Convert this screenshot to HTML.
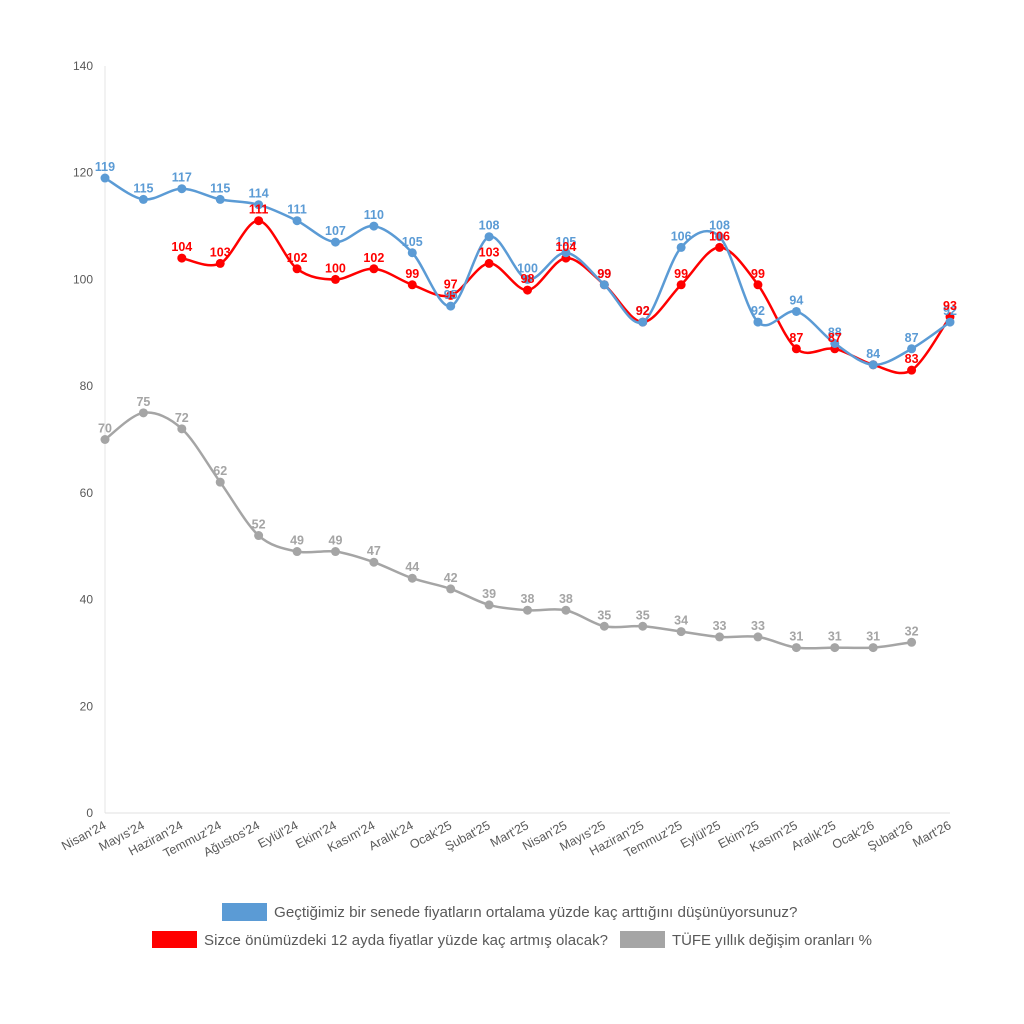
<!DOCTYPE html>
<html><head><meta charset="utf-8"><style>
body{margin:0;background:#fff;}
svg{display:block;font-family:"Liberation Sans",sans-serif;}
</style></head><body>
<svg id="s" width="1024" height="1024" xmlns="http://www.w3.org/2000/svg"></svg>
<script>
const s=document.getElementById('s');
const X0=105,STEP=845/22,Y0=813,K=(813-66)/140;
const months=["Nisan'24","Mayıs'24","Haziran'24","Temmuz'24","Ağustos'24","Eylül'24","Ekim'24","Kasım'24","Aralık'24","Ocak'25","Şubat'25","Mart'25","Nisan'25","Mayıs'25","Haziran'25","Temmuz'25","Eylül'25","Ekim'25","Kasım'25","Aralık'25","Ocak'26","Şubat'26","Mart'26"];
const blue=[119,115,117,115,114,111,107,110,105,95,108,100,105,99,92,106,108,92,94,88,84,87,92];
const red=[null,null,104,103,111,102,100,102,99,97,103,98,104,99,92,99,106,99,87,87,84,83,93];
const gray=[70,75,72,62,52,49,49,47,44,42,39,38,38,35,35,34,33,33,31,31,31,32];
let h='';
h+=`<line x1="105" y1="66" x2="105" y2="813" stroke="#e6e6e6"/>`;
h+=`<line x1="105" y1="813" x2="950" y2="813" stroke="#e0e0e0"/>`;
for(let v=0;v<=140;v+=20){const y=Y0-v*K;h+=`<text x="93" y="${y+4}" font-size="12" fill="#595959" text-anchor="end">${v}</text>`;}
months.forEach((m,i)=>{const x=X0+i*STEP;h+=`<text transform="translate(${x+2},${828}) rotate(-28)" font-size="12.5" fill="#595959" text-anchor="end">${m}</text>`;});
function pts(a){return a.map((v,i)=>v==null?null:[X0+i*STEP,Y0-v*K,v]).filter(p=>p);}
function path(p){let d=`M${p[0][0]},${p[0][1]}`;for(let i=0;i<p.length-1;i++){const p0=p[i-1]||p[i],p1=p[i],p2=p[i+1],p3=p[i+2]||p2;const t=0.16;d+=` C${p1[0]+(p2[0]-p0[0])*t},${p1[1]+(p2[1]-p0[1])*t} ${p2[0]-(p3[0]-p1[0])*t},${p2[1]-(p3[1]-p1[1])*t} ${p2[0]},${p2[1]}`;}return d;}
function line(a,c){const p=pts(a);let o=`<path d="${path(p)}" fill="none" stroke="${c}" stroke-width="2.5"/>`;p.forEach(q=>{o+=`<circle cx="${q[0]}" cy="${q[1]}" r="4.5" fill="${c}"/>`;});return o;}
function labels(a,c,skip){let o='';pts(a).forEach(q=>{if(skip&&skip.includes(q[0]))return;o+=`<text x="${q[0]}" y="${q[1]-7}" font-size="12.5" font-weight="bold" fill="${c}" text-anchor="middle">${q[2]}</text>`;});return o;}
h+=line(gray,'#a5a5a5');
h+=line(red,'#ff0000');
h+=line(blue,'#5b9bd5');
h+=labels(gray,'#a5a5a5');
h+=labels(blue,'#5b9bd5');
h+=labels(red,'#ff0000',[X0+20*STEP]);
h+=`<rect x="222" y="903" width="45" height="18" fill="#5b9bd5"/><text x="274" y="917" font-size="15.2" fill="#595959">Geçtiğimiz bir senede fiyatların ortalama yüzde kaç arttığını düşünüyorsunuz?</text>`;
h+=`<rect x="152" y="931" width="45" height="17" fill="#ff0000"/><text x="204" y="945" font-size="15" textLength="404" fill="#595959">Sizce önümüzdeki 12 ayda fiyatlar yüzde kaç artmış olacak?</text>`;
h+=`<rect x="620" y="931" width="45" height="17" fill="#a5a5a5"/><text x="672" y="945" font-size="15" textLength="200" fill="#595959">TÜFE yıllık değişim oranları %</text>`;
s.innerHTML=h;
</script>
</body></html>
